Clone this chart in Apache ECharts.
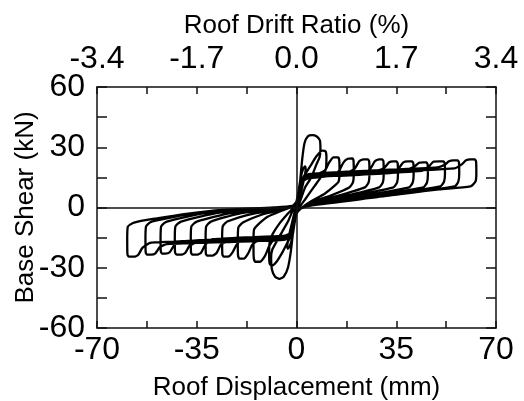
<!DOCTYPE html>
<html>
<head>
<meta charset="utf-8">
<script src="https://cdn.jsdelivr.net/npm/echarts@6/dist/echarts.min.js"></script>
<style>
  html, body { margin: 0; padding: 0; background: #fff; }
  #chart { width: 524px; height: 401px; }
</style>
</head>
<body>
<div id="chart"></div>
<script>
// tick labels
const dispTicks = [-70, -35, 0, 35, 70];
const driftTicks = ['-3.4', '-1.7', '0.0', '1.7', '3.4'];
const shearTicks = [-60, -30, 0, 30, 60];

// hysteresis path, one array per cycle: [roof displacement mm, base shear kN]
const cycle00 = [[0,0],[0.5,5],[1,10],[1.4,13],[1.6,12],[1.3,8],[0.5,2],[0,-1],[-0.5,-5],[-1,-10],[-1.4,-13],[-1.6,-12],[-1.3,-8],[-0.5,-2],[0,1]];
const cycle01 = [[0.7,8],[1.5,15],[2.4,19.5],[3,20.5],[3.2,19],[2.8,15],[1.8,9],[0.8,3],[0,-2],
  [-0.7,-8],[-1.5,-15],[-2.4,-19.5],[-3,-20.5],[-3.2,-19],[-2.8,-15],[-1.8,-9],[-0.8,-3],[0,2]];
const cycle02 = [[0.5,3],[1.2,12],[2,24],[2.8,32],[4,35.5],[5.5,36],[7,35.5],[8.2,33.5],[8.4,29],[8.1,25],[7,21.5],[5.2,15],[3,10],[1.5,4],[0.5,0],[0,-3],
  [-0.5,-2],[-1.2,-12],[-2,-22],[-3,-30],[-4.5,-34.5],[-6,-35.5],[-7.5,-34.5],[-8.6,-31],[-8.9,-25],[-8.5,-21],[-7,-17],[-5,-12],[-3,-7],[-1.5,-2],[-0.5,1],[0,3]];
const cycle03 = [[0.7,8],[1.5,13],[3,16.5],[5,21],[7,25.5],[9,28.3],[10.2,28],[10.5,25],[10.3,19],[9,16],[6,10],[3,4],[1,0],[0,-3],
  [-0.7,-8],[-1.5,-13],[-3,-17],[-5,-22.5],[-7,-27],[-8.7,-29],[-9.4,-28],[-9.6,-24],[-9.4,-17],[-8.3,-13],[-6,-8],[-3,-3],[-1,0],[0,3]];
const cycle04 = [[0.7,7],[1.8,12.5],[4,15.5],[8,17],[10,18.5],[11.5,22.5],[13,25],[14.6,25],[15,23.5],[15.1,18],[14.8,13],[13.5,11],[10,7],[5,3],[1.5,-0.5],[0,-3],
  [-0.7,-7],[-1.8,-12.5],[-4,-14],[-7.5,-15.5],[-9.5,-19],[-11,-24],[-12.8,-27],[-14.5,-27],[-15,-25],[-15.1,-18],[-14.9,-11],[-13.5,-8.5],[-10,-4.5],[-5,-1.5],[-1.5,0.5],[0,3]];
const cycle05 = [[0.7,7],[1.8,12.5],[4,14.5],[13,16],[15,18.5],[16.5,22.5],[18,24.3],[19.6,24.5],[20,23.5],[20.1,17],[19.8,12.5],[18.5,10],[12,6],[5,2.5],[1.5,-0.5],[0,-3],
  [-0.7,-7],[-1.8,-12.5],[-4,-15.5],[-13.5,-16.5],[-15.5,-18.5],[-17,-23],[-18.5,-25.5],[-20,-25.5],[-20.5,-24],[-20.6,-17],[-20.4,-10],[-18.8,-7.5],[-12,-3.5],[-5,-1],[-1.5,0.5],[0,3]];
const cycle06 = [[0.7,7],[1.8,12.5],[4,16],[18,17.5],[20.5,19.5],[22,23],[23.5,24],[25,24],[25.5,23],[25.6,17],[25.3,12.5],[24,10],[15,6],[5,2],[1.5,-0.5],[0,-3],
  [-0.7,-7],[-1.8,-12.5],[-4,-14.5],[-18.5,-15.5],[-21,-18.5],[-22.5,-22.5],[-24,-24.5],[-25.5,-24.5],[-26,-23.5],[-26.1,-16],[-25.9,-9.5],[-24.3,-7],[-15,-3],[-5,-0.8],[-1.5,0.5],[0,3]];
const cycle07 = [[0.7,7],[1.8,12.5],[4,15],[23.5,16.5],[26,19.5],[27.5,23],[29,24],[30,24],[30.5,23],[30.6,17],[30.3,12.5],[29,10],[18,6],[5,2],[1.5,-0.5],[0,-3],
  [-0.7,-7],[-1.8,-12.5],[-4,-16],[-24,-17],[-26.5,-18.5],[-28,-22.5],[-29.5,-24],[-31.3,-24],[-31.8,-23],[-31.9,-16],[-31.7,-9.5],[-30,-7],[-20,-3],[-6,-0.5],[-1.5,0.5],[0,3]];
const cycle08 = [[0.7,7],[1.8,12.5],[4,16.5],[28.5,18.5],[31,20],[32.5,22.5],[34,23],[35,23],[35.5,22],[35.6,16.5],[35.3,12.5],[34,10],[20,6],[5,1.8],[1.5,-0.5],[0,-3],
  [-0.7,-7],[-1.8,-12.5],[-4,-14],[-29.5,-15.8],[-32,-18.5],[-33.5,-22.5],[-35,-23.5],[-36.5,-23.5],[-37,-22.5],[-37.1,-16],[-36.9,-9.5],[-35,-7],[-23,-2.8],[-6,-0.5],[-1.5,0.5],[0,3]];
const cycle09 = [[0.7,7],[1.8,12.5],[4,15],[33.5,17.3],[36,19.8],[37.5,22.5],[39,23],[40.5,23],[41,22],[41.1,16.5],[40.8,12.5],[39.5,10],[24,6],[5,1.5],[1.5,-0.5],[0,-3],
  [-0.7,-7],[-1.8,-12.5],[-4,-15.5],[-35,-17.5],[-37.5,-19],[-39,-22.5],[-40.5,-23.5],[-42,-23.5],[-42.6,-22.5],[-42.7,-16],[-42.5,-9.5],[-40.5,-7],[-27,-2.5],[-7,-0.3],[-1.5,0.5],[0,3]];
const cycle10 = [[0.7,7],[1.8,12.5],[4,16],[39,19],[41.5,20.5],[43,22.3],[44.5,22.5],[45.5,22.5],[46,21.5],[46.1,16.5],[45.8,12.5],[44.5,10],[27,6],[5,1.3],[1.5,-0.5],[0,-3],
  [-0.7,-7],[-1.8,-12.5],[-4,-14.5],[-40.5,-16.8],[-43,-19],[-44.5,-22.3],[-46,-23],[-47.1,-23],[-47.6,-22],[-47.7,-16],[-47.5,-9.5],[-45.5,-7],[-31,-2.5],[-7,-0.3],[-1.5,0.5],[0,3]];
const cycle11 = [[0.7,7],[1.8,12.5],[4,15],[44,18.3],[46.5,20.5],[48,22.8],[50,23],[51.5,23],[52,22],[52.1,17],[51.8,13],[50.5,10.5],[30,6],[5,1.2],[1.5,-0.5],[0,-3],
  [-0.7,-7],[-1.8,-12.5],[-4,-16],[-45.5,-18.2],[-48,-19.8],[-49.5,-22.8],[-51,-23.5],[-52.4,-23.5],[-52.9,-22.5],[-53,-16],[-52.8,-9.5],[-50.8,-7],[-35,-2.8],[-8,-0.2],[-1.5,0.5],[0,3]];
const cycle12 = [[0.7,7],[1.8,12.5],[4,16.5],[49.5,20],[52,21.3],[53.5,23],[55,23.5],[56.5,23.5],[57,22.5],[57.1,17],[56.8,13],[55.5,10.5],[33,6],[5,1],[1.5,-0.5],[0,-3],
  [-0.7,-7],[-1.8,-12.5],[-4,-15],[-51,-17.5],[-54,-20],[-55.5,-23.5],[-57,-24.5],[-58.8,-24.5],[-59.3,-23.5],[-59.4,-16],[-59.2,-9.6],[-57,-7.5],[-49,-5.4],[-38,-3],[-26,-1.2],[-8,0],[-1.5,0.8],[0,3]];
const cycle13 = [[0.7,7],[1.8,12.5],[4,15.5],[55.5,19.5],[58,21.5],[59.5,23.5],[61,24],[62.5,24],[63,23],[63.1,17],[62.8,12.9],[61,10.5],[50,9],[33,6.2],[15,3],[5,1],[1.5,-0.5],[0,-3]];

const cycles = [cycle00, cycle01, cycle02, cycle03, cycle04, cycle05, cycle06,
  cycle07, cycle08, cycle09, cycle10, cycle11, cycle12, cycle13];
const path = [].concat(...cycles);

const font = '"Liberation Sans", Arial, sans-serif';
const frame = { show: true, onZero: false, lineStyle: { color: '#111', width: 1.5 } };

function tickOnly(list, labels) {
  return function (v) {
    const i = list.indexOf(v);
    return i >= 0 ? (labels ? labels[i] : String(v)) : '';
  };
}

const chart = echarts.init(document.getElementById('chart'));
chart.setOption({
  animation: false,
  grid: { left: 97, right: 28, top: 87, bottom: 73, show: false, containLabel: false, outerBoundsMode: 'none' },
  xAxis: [
    {
      type: 'value', position: 'bottom', min: -70, max: 70, interval: 17.5,
      axisLine: frame,
      axisTick: { inside: true, length: 7, lineStyle: { color: '#111', width: 1.5 } },
      axisLabel: { formatter: tickOnly(dispTicks), fontSize: 32, color: '#000', margin: 6, fontFamily: font },
      splitLine: { show: false },
      name: 'Roof Displacement (mm)', nameLocation: 'middle', nameGap: 47, nameMoveOverlap: false,
      nameTextStyle: { fontSize: 26, color: '#000', fontFamily: font }
    },
    {
      type: 'value', position: 'top', min: -70, max: 70, interval: 17.5,
      axisLine: frame,
      axisTick: { inside: true, length: 7, lineStyle: { color: '#111', width: 1.5 } },
      axisLabel: { formatter: tickOnly(dispTicks, driftTicks), fontSize: 32, color: '#000', margin: 12, fontFamily: font },
      splitLine: { show: false },
      name: 'Roof Drift Ratio (%)', nameLocation: 'middle', nameGap: 48, nameMoveOverlap: false,
      nameTextStyle: { fontSize: 26, color: '#000', fontFamily: font }
    }
  ],
  yAxis: [
    {
      type: 'value', position: 'left', min: -60, max: 60, interval: 15,
      axisLine: frame,
      axisTick: { inside: true, length: 10, lineStyle: { color: '#111', width: 1.5 } },
      axisLabel: { formatter: tickOnly(shearTicks), fontSize: 32, color: '#000', margin: 12, fontFamily: font },
      splitLine: { show: false },
      name: 'Base Shear (kN)', nameLocation: 'middle', nameGap: 58, nameMoveOverlap: false,
      nameTextStyle: { fontSize: 26, color: '#000', fontFamily: font }
    },
    {
      type: 'value', position: 'right', min: -60, max: 60, interval: 15,
      axisLine: frame,
      axisTick: { inside: true, length: 10, lineStyle: { color: '#111', width: 1.5 } },
      axisLabel: { show: false },
      splitLine: { show: false }
    }
  ],
  series: [
    {
      type: 'line',
      data: path,
      showSymbol: false,
      smooth: 0.2,
      lineStyle: { color: '#000', width: 2.3 },
      markLine: {
        silent: true,
        symbol: 'none',
        label: { show: false },
        lineStyle: { color: '#111', width: 1.5, type: 'solid' },
        data: [{ xAxis: 0 }, { yAxis: 0 }]
      }
    }
  ]
});
</script>
</body>
</html>
